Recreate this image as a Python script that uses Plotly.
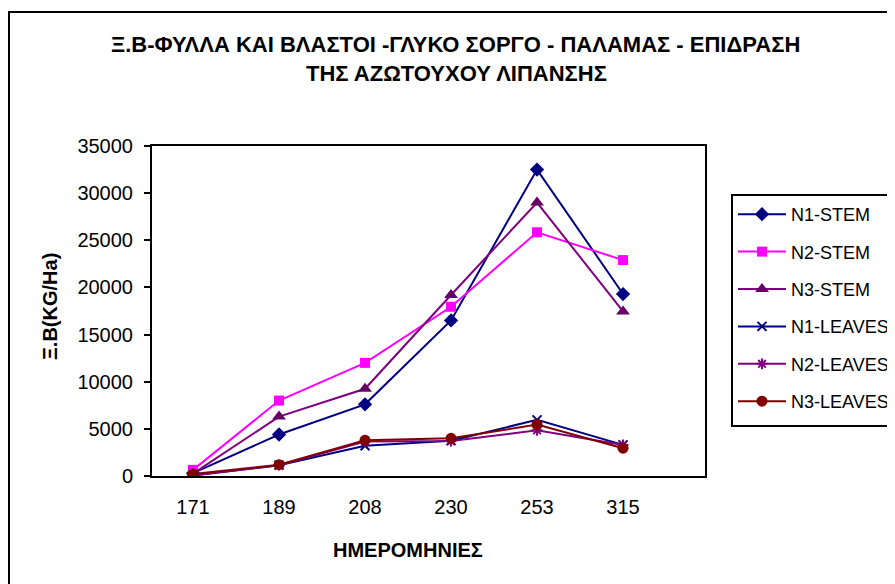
import plotly.graph_objects as go

days = ["171", "189", "208", "230", "253", "315"]
n1_stem = [300, 4400, 7600, 16500, 32500, 19300]
n2_stem = [650, 8000, 12000, 17950, 25850, 22900]
n3_stem = [250, 6300, 9250, 19200, 29000, 17450]
n1_leaves = [60, 1150, 3200, 3750, 5950, 3300]
n2_leaves = [60, 1150, 3650, 3700, 4850, 3300]
n3_leaves = [200, 1200, 3800, 4000, 5450, 2950]

# the page puts the figure 8px from the top-left corner
OFF = 8
W, H = 895 - OFF, 584 - OFF
L, R, T, B = 152 - OFF, 705 - OFF, 146 - OFF, 476 - OFF


def px(x):
    return (x - OFF - L) / (R - L)


def py(y):
    return (B - (y - OFF)) / (B - T)


FONT = "Liberation Sans, Arial, sans-serif"
xi = list(range(len(days)))

series = [
    ("N1-STEM", n1_stem, "#000080", "#000080", "diamond", 11, 0),
    ("N2-STEM", n2_stem, "#FF00FF", "#FF00FF", "square", 10, 0),
    ("N3-STEM", n3_stem, "#800080", "#660066", "triangle-up", 12, 0),
    ("N1-LEAVES", n1_leaves, "#000080", "#000080", "x-thin", 9, 2),
    ("N2-LEAVES", n2_leaves, "#800080", "#800080", "asterisk", 9, 2),
    ("N3-LEAVES", n3_leaves, "#800000", "#800000", "circle", 11, 0),
]

fig = go.Figure()
for i, (name, vals, lc, mc, sym, size, mlw) in enumerate(series):
    fig.add_trace(go.Scatter(
        x=xi, y=vals, name=name, mode="lines+markers",
        legendgroup=f"g{i}",
        line=dict(color=lc, width=2),
        marker=dict(symbol=sym, size=size, color=mc,
                    line=dict(color=mc, width=mlw)),
    ))

fig.update_layout(
    width=W, height=H,
    margin=dict(l=L, r=W - R, t=T, b=H - B, pad=0, autoexpand=False),
    paper_bgcolor="white", plot_bgcolor="white",
    font=dict(family=FONT, size=20, color="black"),
    showlegend=True,
    legend=dict(
        x=px(733), y=py(196), xanchor="left", yanchor="top",
        bgcolor="rgba(0,0,0,0)", borderwidth=0,
        font=dict(family=FONT, size=18, color="black"),
        tracegroupgap=11, itemwidth=48,
    ),
    xaxis=dict(
        range=[-0.477, 5.953], tickvals=xi, ticktext=days,
        showline=True, linecolor="black", linewidth=2, mirror=True,
        ticks="", showgrid=False, zeroline=False,
        ticklabelstandoff=12,
        tickfont=dict(family=FONT, size=20, color="black"),
    ),
    yaxis=dict(
        range=[0, 35000], dtick=5000, tickformat="d",
        showline=True, linecolor="black", linewidth=2, mirror=True,
        ticks="outside", ticklen=6, tickwidth=1.5, tickcolor="black",
        showgrid=False, zeroline=False, ticklabelstandoff=7,
        tickfont=dict(family=FONT, size=20, color="black"),
    ),
    shapes=[
        dict(type="rect", xref="paper", yref="paper",
             x0=px(9), x1=px(1100), y0=py(800), y1=py(12),
             line=dict(color="black", width=2), layer="below"),
        dict(type="rect", xref="paper", yref="paper",
             x0=px(732), x1=px(1100), y0=py(426), y1=py(195),
             line=dict(color="black", width=2)),
    ],
    annotations=[
        dict(text="<b>Ξ.Β-ΦΥΛΛΑ ΚΑΙ ΒΛΑΣΤΟΙ -ΓΛΥΚΟ ΣΟΡΓΟ - ΠΑΛΑΜΑΣ - ΕΠΙΔΡΑΣΗ</b>",
             xref="paper", yref="paper", x=px(455), y=py(45),
             showarrow=False, xanchor="center", yanchor="middle",
             font=dict(family=FONT, size=22, color="black")),
        dict(text="<b>ΤΗΣ ΑΖΩΤΟΥΧΟΥ ΛΙΠΑΝΣΗΣ</b>",
             xref="paper", yref="paper", x=px(456), y=py(74),
             showarrow=False, xanchor="center", yanchor="middle",
             font=dict(family=FONT, size=22, color="black")),
        dict(text="<b>Ξ.Β(KG/Ha)</b>", textangle=-90,
             xref="paper", yref="paper", x=px(50), y=py(307),
             showarrow=False, xanchor="center", yanchor="middle",
             font=dict(family=FONT, size=20, color="black")),
        dict(text="<b>ΗΜΕΡΟΜΗΝΙΕΣ</b>",
             xref="paper", yref="paper", x=px(408), y=py(550),
             showarrow=False, xanchor="center", yanchor="middle",
             font=dict(family=FONT, size=20, color="black")),
    ],
)

fig.write_html("out.html")
